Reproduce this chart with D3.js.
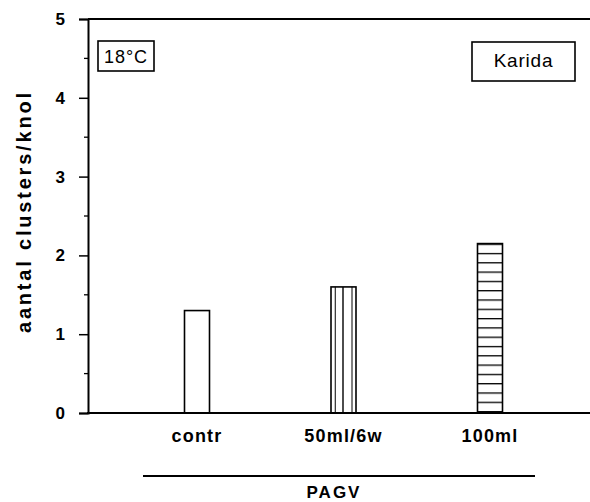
<!DOCTYPE html>
<html>
<head>
<meta charset="utf-8">
<script src="https://cdn.jsdelivr.net/npm/d3@7"></script>
<style>
  html, body { margin: 0; padding: 0; background: #fff; }
  svg { display: block; }
  text { font-family: "Liberation Sans", Arial, Helvetica, sans-serif; fill: #000; }
</style>
</head>
<body>
<svg id="chart" width="590" height="502"></svg>
<script>
// Treatments, measured values and axis ticks
const categories = ["contr", "50ml/6w", "100ml"];
const values = [1.3, 1.6, 2.15];
const fills = ["plain", "vertical", "horizontal"];
const yTicks = [0, 1, 2, 3, 4, 5];
const yMinorTicks = [0.5, 1.5, 2.5, 3.5, 4.5];
const yTitle = "aantal clusters/knol";
const groupTitle = "PAGV";
const tempLabel = "18°C";
const cultivarLabel = "Karida";

const svg = d3.select("#chart");
const axisLeft = 88, axisRight = 590;

const y = d3.scaleLinear().domain([0, 5]).range([413, 19]);
const x = d3.scalePoint().domain(categories).range([197, 490]);
const barW = 25;

// hatch pattern for the horizontally striped bar
const defs = svg.append("defs");
const hp = defs.append("pattern").attr("id", "hstripes")
  .attr("patternUnits", "userSpaceOnUse").attr("width", 10).attr("height", 9.3)
  .attr("y", y(values[2]));
hp.append("line").attr("x1", 0).attr("x2", 10).attr("y1", 0.6).attr("y2", 0.6)
  .attr("stroke", "#000").attr("stroke-width", 1.4);

// bars
const bars = svg.append("g");
categories.forEach((c, i) => {
  const x0 = x(c) - barW / 2;
  const top = y(values[i]);
  const h = y(0) - top;
  bars.append("rect")
    .attr("x", x0).attr("y", top).attr("width", barW).attr("height", h)
    .attr("fill", fills[i] === "horizontal" ? "url(#hstripes)" : "#fff")
    .attr("stroke", "#000").attr("stroke-width", 1.6);
  if (fills[i] === "vertical") {
    [0.17, 0.48, 0.84].forEach((f, k) => {
      bars.append("line")
        .attr("x1", x0 + barW * f).attr("x2", x0 + barW * f)
        .attr("y1", top).attr("y2", y(0))
        .attr("stroke", "#000").attr("stroke-width", k === 1 ? 1.4 : 1);
    });
  }
});

// top frame line and x baseline
svg.append("line").attr("x1", axisLeft).attr("x2", axisRight)
  .attr("y1", y(5)).attr("y2", y(5)).attr("stroke", "#000").attr("stroke-width", 2);
svg.append("line").attr("x1", axisLeft - 1).attr("x2", axisRight)
  .attr("y1", y(0)).attr("y2", y(0)).attr("stroke", "#000").attr("stroke-width", 2);

// y axis
const yAxis = d3.axisLeft(y).tickValues(yTicks).tickFormat(d3.format("d"))
  .tickSize(9).tickPadding(14);
const gy = svg.append("g").attr("transform", `translate(${axisLeft},0)`).call(yAxis);
gy.select(".domain").attr("stroke", "#000").attr("stroke-width", 2);
gy.selectAll(".tick line").attr("stroke", "#000").attr("stroke-width", 1.5);
gy.selectAll(".tick text").attr("font-size", 17).attr("font-weight", "bold")
  .attr("font-family", "Liberation Sans, Arial, sans-serif");
gy.selectAll(".minor").data(yMinorTicks).enter().append("line")
  .attr("x1", -4).attr("x2", 0).attr("y1", d => y(d)).attr("y2", d => y(d))
  .attr("stroke", "#000").attr("stroke-width", 1.3);

// category labels
svg.append("g").selectAll("text").data(categories).enter().append("text")
  .attr("x", d => x(d)).attr("y", 442)
  .attr("text-anchor", "middle").attr("font-size", 18).attr("font-weight", "bold")
  .attr("letter-spacing", 1.2)
  .text(d => d);

// group bracket line and title
svg.append("line").attr("x1", 143).attr("x2", 535).attr("y1", 476).attr("y2", 476)
  .attr("stroke", "#000").attr("stroke-width", 1.8);
svg.append("text").attr("x", 334).attr("y", 498).attr("text-anchor", "middle")
  .attr("font-size", 17).attr("font-weight", "bold").attr("letter-spacing", 2)
  .text(groupTitle);

// y title
svg.append("text")
  .attr("transform", "translate(31,213) rotate(-90)")
  .attr("text-anchor", "middle").attr("font-size", 20).attr("font-weight", "bold")
  .attr("textLength", 240).attr("lengthAdjust", "spacing")
  .text(yTitle);

// boxed annotations
function box(x0, y0, w, h, label, fs, baseline, ls) {
  svg.append("rect").attr("x", x0).attr("y", y0).attr("width", w).attr("height", h)
    .attr("fill", "#fff").attr("stroke", "#000").attr("stroke-width", 1.6);
  svg.append("text").attr("x", x0 + w / 2).attr("y", baseline)
    .attr("text-anchor", "middle").attr("font-size", fs).attr("letter-spacing", ls)
    .text(label);
}
box(98, 41, 56, 30, tempLabel, 18, 63, 1);
box(472, 42, 103, 39, cultivarLabel, 19, 67, 0.8);
</script>
</body>
</html>
